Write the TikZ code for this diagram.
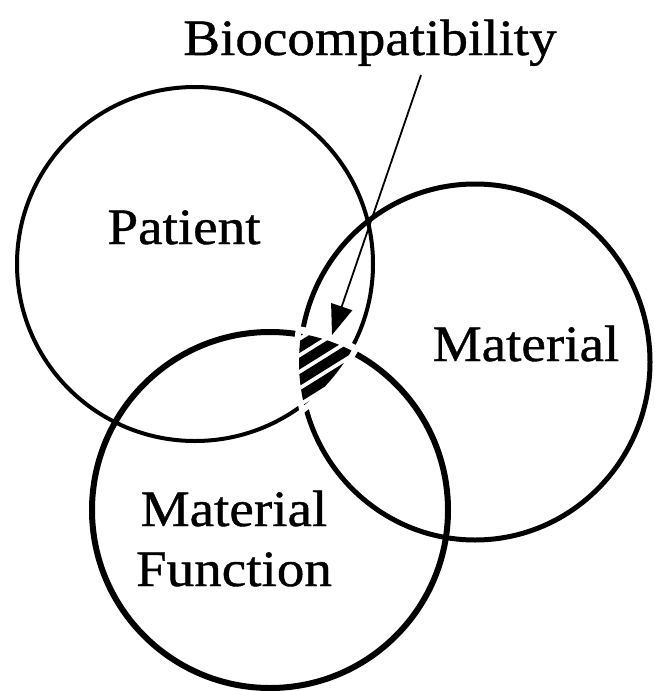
\documentclass[tikz,border=0pt]{standalone}
\usepackage{fontspec}
\setmainfont{Liberation Serif}[FakeStretch=1.08,FakeBold=0.8]
\usetikzlibrary{arrows.meta}
\begin{document}
\begin{tikzpicture}[x=1pt,y=-1pt,
  lbl/.style={anchor=base,inner sep=0pt,font=\fontsize{51}{60}\selectfont},
  Pshape/.style={x radius=178,y radius=177},
  Mshape/.style={x radius=175,y radius=178},
  Fshape/.style={x radius=178,y radius=178}]
\useasboundingbox (0,0) rectangle (654,691);
\coordinate (P) at (195,264);
\coordinate (M) at (475,362);
\coordinate (F) at (270,510);
\draw[line width=4] (P) ellipse [Pshape];
\draw[line width=5] (M) ellipse [Mshape];
\draw[line width=6] (F) ellipse [Fshape];
% erase the boundary of the triple overlap
\begin{scope}
  \clip (P) ellipse [x radius=185,y radius=184];
  \clip (M) ellipse [x radius=182,y radius=185];
  \draw[white,line width=10] (F) ellipse [Fshape];
\end{scope}
\begin{scope}
  \clip (M) ellipse [x radius=182,y radius=185];
  \clip (F) ellipse [x radius=186,y radius=186];
  \draw[white,line width=10] (P) ellipse [Pshape];
\end{scope}
\begin{scope}
  \clip (P) ellipse [x radius=185,y radius=184];
  \clip (F) ellipse [x radius=186,y radius=186];
  \draw[white,line width=10] (M) ellipse [Mshape];
\end{scope}
% hatching
\begin{scope}
  \clip (P) ellipse [x radius=179,y radius=178];
  \clip (M) ellipse [x radius=176,y radius=179];
  \clip (F) ellipse [x radius=179,y radius=179];
  \begin{scope}[shift={(326,380)},rotate=32]
    \foreach \k in {-7,...,7} \draw[line width=10] (-100,\k*14) -- (100,\k*14);
  \end{scope}
\end{scope}
% labels
\node[lbl] (bio) at (370,55) {Biocompatibility};
\node[lbl] (pat) at (184,244) {Patient};
\node[lbl] (mat) at (526,361) {Material};
\node[lbl] (mf1) at (234,526) {Material};
\node[lbl] (mf2) at (234,586) {Function};
% arrow
\coordinate (a1) at (421,75);
\coordinate (a2) at (332,335);
\draw[line width=1.8,-{Triangle[length=30,width=22]}] (a1) -- (a2);
\end{tikzpicture}
\end{document}
